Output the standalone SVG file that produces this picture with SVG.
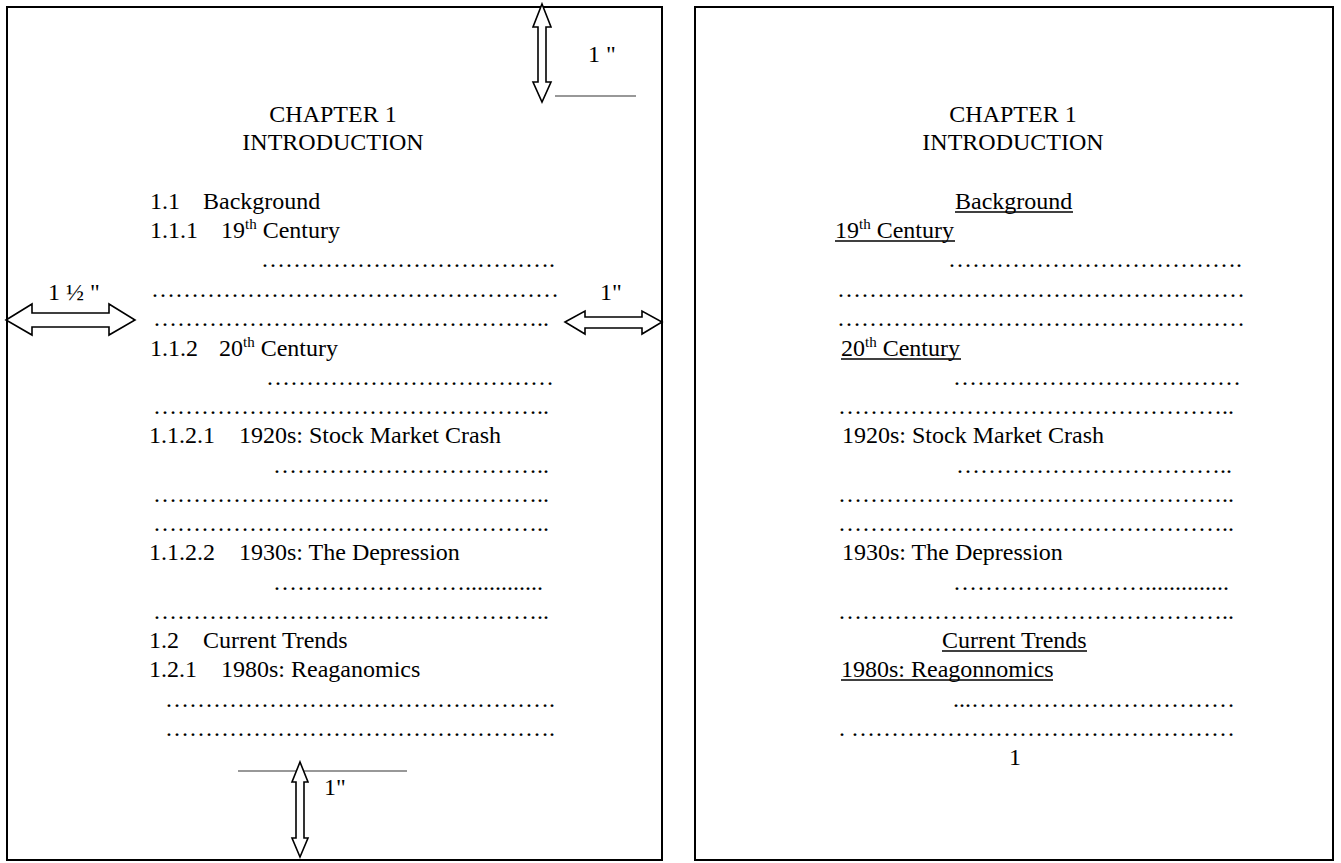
<svg xmlns="http://www.w3.org/2000/svg" width="1341" height="863" viewBox="0 0 1341 863">
<style>
text{font-family:'Liberation Serif','Times New Roman','DejaVu Serif',serif;font-size:24px;fill:#000}
.c{text-anchor:middle}
.sup{font-size:15px}
.page{fill:#fff;stroke:#000;stroke-width:2}
.arrow{fill:#fff;stroke:#000;stroke-width:1.6;stroke-linejoin:miter}
.rule{stroke:#333;stroke-width:1.2}
.ul{stroke:#000;stroke-width:1.5}
</style>
<rect width="1341" height="863" fill="#fff"/>
<g id="left-page" font-family="Liberation Serif, serif">
<rect class="page" x="7" y="7" width="655" height="853"/>
<text class="c" x="333" y="122">CHAPTER 1</text>
<text class="c" x="333" y="150">INTRODUCTION</text>
<text x="150" y="209">1.1</text><text x="203" y="209">Background</text>
<text x="150" y="238">1.1.1</text><text x="221" y="238">19<tspan class="sup" dy="-9">th</tspan><tspan dy="9"> Century</tspan></text>
<text x="261" y="267">&#8230;&#8230;&#8230;&#8230;&#8230;&#8230;&#8230;&#8230;&#8230;&#8230;&#8230;&#8230;&#46;</text>
<text x="151" y="297">&#8230;&#8230;&#8230;&#8230;&#8230;&#8230;&#8230;&#8230;&#8230;&#8230;&#8230;&#8230;&#8230;&#8230;&#8230;&#8230;&#8230;</text>
<text x="153" y="326">&#8230;&#8230;&#8230;&#8230;&#8230;&#8230;&#8230;&#8230;&#8230;&#8230;&#8230;&#8230;&#8230;&#8230;&#8230;&#8230;&#46;&#46;</text>
<text x="150" y="356">1.1.2</text><text x="219" y="356">20<tspan class="sup" dy="-9">th</tspan><tspan dy="9"> Century</tspan></text>
<text x="266" y="385">&#8230;&#8230;&#8230;&#8230;&#8230;&#8230;&#8230;&#8230;&#8230;&#8230;&#8230;&#8230;</text>
<text x="153" y="414">&#8230;&#8230;&#8230;&#8230;&#8230;&#8230;&#8230;&#8230;&#8230;&#8230;&#8230;&#8230;&#8230;&#8230;&#8230;&#8230;&#46;&#46;</text>
<text x="149" y="443">1.1.2.1</text><text x="239" y="443">1920s: Stock Market Crash</text>
<text x="273" y="473">&#8230;&#8230;&#8230;&#8230;&#8230;&#8230;&#8230;&#8230;&#8230;&#8230;&#8230;&#46;&#46;</text>
<text x="153" y="502">&#8230;&#8230;&#8230;&#8230;&#8230;&#8230;&#8230;&#8230;&#8230;&#8230;&#8230;&#8230;&#8230;&#8230;&#8230;&#8230;&#46;&#46;</text>
<text x="153" y="531">&#8230;&#8230;&#8230;&#8230;&#8230;&#8230;&#8230;&#8230;&#8230;&#8230;&#8230;&#8230;&#8230;&#8230;&#8230;&#8230;&#46;&#46;</text>
<text x="149" y="560">1.1.2.2</text><text x="239" y="560">1930s: The Depression</text>
<text x="273" y="590">&#8230;&#8230;&#8230;&#8230;&#8230;&#8230;&#8230;&#8230;&#46;&#46;&#46;&#46;&#46;&#46;&#46;&#46;&#46;&#46;&#46;&#46;&#46;</text>
<text x="153" y="619">&#8230;&#8230;&#8230;&#8230;&#8230;&#8230;&#8230;&#8230;&#8230;&#8230;&#8230;&#8230;&#8230;&#8230;&#8230;&#8230;&#46;&#46;</text>
<text x="149" y="648">1.2</text><text x="203" y="648">Current Trends</text>
<text x="149" y="677">1.2.1</text><text x="221" y="677">1980s: Reaganomics</text>
<text x="165" y="707">&#8230;&#8230;&#8230;&#8230;&#8230;&#8230;&#8230;&#8230;&#8230;&#8230;&#8230;&#8230;&#8230;&#8230;&#8230;&#8230;&#46;</text>
<text x="165" y="736">&#8230;&#8230;&#8230;&#8230;&#8230;&#8230;&#8230;&#8230;&#8230;&#8230;&#8230;&#8230;&#8230;&#8230;&#8230;&#8230;&#46;</text>
</g>
<g id="right-page" font-family="Liberation Serif, serif">
<rect class="page" x="695" y="7" width="638" height="853"/>
<text class="c" x="1013" y="122">CHAPTER 1</text>
<text class="c" x="1013" y="150">INTRODUCTION</text>
<text x="955" y="209">Background</text>
<line class="ul" x1="955" y1="212" x2="1073" y2="212"/>
<text x="835" y="238">19<tspan class="sup" dy="-9">th</tspan><tspan dy="9"> Century</tspan></text>
<line class="ul" x1="835" y1="241" x2="955" y2="241"/>
<text x="948" y="267">&#8230;&#8230;&#8230;&#8230;&#8230;&#8230;&#8230;&#8230;&#8230;&#8230;&#8230;&#8230;&#46;</text>
<text x="837" y="297">&#8230;&#8230;&#8230;&#8230;&#8230;&#8230;&#8230;&#8230;&#8230;&#8230;&#8230;&#8230;&#8230;&#8230;&#8230;&#8230;&#8230;</text>
<text x="837" y="326">&#8230;&#8230;&#8230;&#8230;&#8230;&#8230;&#8230;&#8230;&#8230;&#8230;&#8230;&#8230;&#8230;&#8230;&#8230;&#8230;&#8230;</text>
<text x="841" y="356">20<tspan class="sup" dy="-9">th</tspan><tspan dy="9"> Century</tspan></text>
<line class="ul" x1="841" y1="359" x2="961" y2="359"/>
<text x="953" y="385">&#8230;&#8230;&#8230;&#8230;&#8230;&#8230;&#8230;&#8230;&#8230;&#8230;&#8230;&#8230;</text>
<text x="838" y="414">&#8230;&#8230;&#8230;&#8230;&#8230;&#8230;&#8230;&#8230;&#8230;&#8230;&#8230;&#8230;&#8230;&#8230;&#8230;&#8230;&#46;&#46;</text>
<text x="842" y="443">1920s: Stock Market Crash</text>
<text x="956" y="473">&#8230;&#8230;&#8230;&#8230;&#8230;&#8230;&#8230;&#8230;&#8230;&#8230;&#8230;&#46;&#46;</text>
<text x="838" y="502">&#8230;&#8230;&#8230;&#8230;&#8230;&#8230;&#8230;&#8230;&#8230;&#8230;&#8230;&#8230;&#8230;&#8230;&#8230;&#8230;&#46;&#46;</text>
<text x="838" y="531">&#8230;&#8230;&#8230;&#8230;&#8230;&#8230;&#8230;&#8230;&#8230;&#8230;&#8230;&#8230;&#8230;&#8230;&#8230;&#8230;&#46;&#46;</text>
<text x="842" y="560">1930s: The Depression</text>
<text x="953" y="590">&#8230;&#8230;&#8230;&#8230;&#8230;&#8230;&#8230;&#8230;&#46;&#46;&#46;&#46;&#46;&#46;&#46;&#46;&#46;&#46;&#46;&#46;&#46;&#46;</text>
<text x="838" y="619">&#8230;&#8230;&#8230;&#8230;&#8230;&#8230;&#8230;&#8230;&#8230;&#8230;&#8230;&#8230;&#8230;&#8230;&#8230;&#8230;&#46;&#46;</text>
<text x="942" y="648">Current Trends</text>
<line class="ul" x1="942" y1="651" x2="1087" y2="651"/>
<text x="841" y="677">1980s: Reagonnomics</text>
<line class="ul" x1="841" y1="680" x2="1053" y2="680"/>
<text x="953" y="707">&#46;&#46;&#46;&#8230;&#8230;&#8230;&#8230;&#8230;&#8230;&#8230;&#8230;&#8230;&#8230;&#8230;</text>
<text x="839" y="736">&#46; &#8230;&#8230;&#8230;&#8230;&#8230;&#8230;&#8230;&#8230;&#8230;&#8230;&#8230;&#8230;&#8230;&#8230;&#8230;&#8230;</text>
<text x="1009" y="765">1</text>
</g>
<g id="connectors">
<polygon class="arrow" points="542,4 551,27 546,27 546,82 551,82 542,102 533,82 538,82 538,27 533,27"/>
<line class="rule" x1="555" y1="96" x2="636" y2="96"/>
<polygon class="arrow" points="6,320 32,304 32,313 109,313 109,304 135,320 109,335 109,327 32,327 32,335"/>
<polygon class="arrow" points="565,322 585,311 585,317 642,317 642,311 662,322 642,334 642,328 585,328 585,334"/>
<line class="rule" x1="238" y1="771" x2="407" y2="771"/>
<polygon class="arrow" points="300,762 308,782 304,782 304,838 308,838 300,857 292,838 296,838 296,782 292,782"/>
</g>
<g id="labels" font-family="Liberation Serif, serif">
<text x="588" y="62">1 "</text>
<text x="48" y="300">1 ½ "</text>
<text x="600" y="300">1"</text>
<text x="324" y="795">1"</text>
</g>
</svg>
